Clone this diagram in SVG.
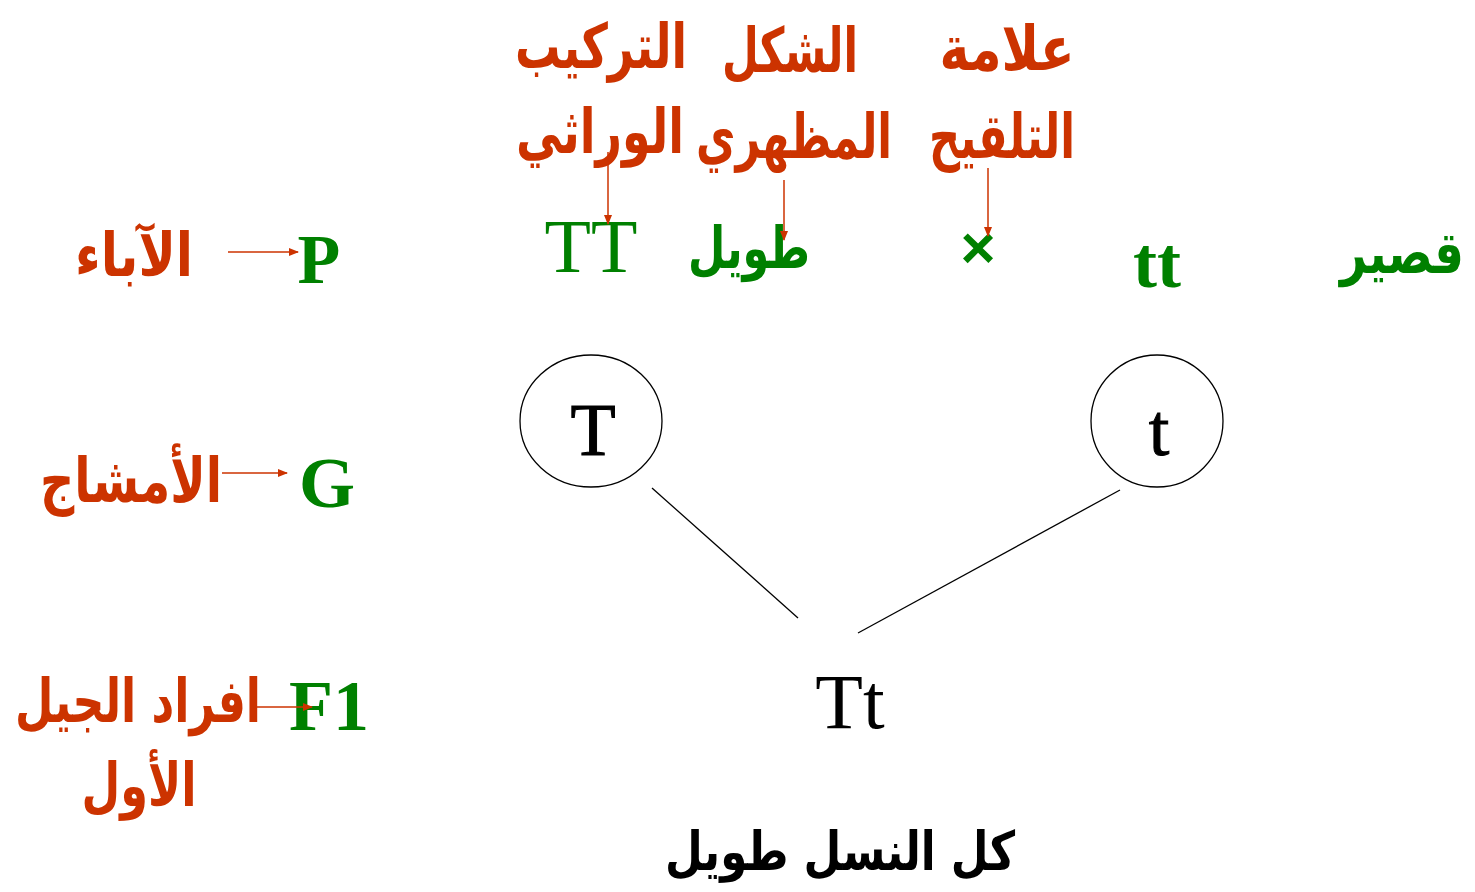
<svg xmlns="http://www.w3.org/2000/svg" width="1475" height="892" viewBox="0 0 1475 892">
<style>
.ar{font-family:"DejaVu Sans","Noto Sans",sans-serif;font-weight:bold;text-anchor:middle}
.red{fill:#CC3300}
.grn{fill:#008000}
.blk{fill:#000}
.lat{font-family:"Liberation Serif","Times New Roman",serif;text-anchor:middle}
.b{font-weight:bold}
.arr{stroke:#CC3300;stroke-width:1.5;fill:none}
.ln{stroke:#000;stroke-width:1.3;fill:none}
</style>
<defs>
<marker id="ah" markerWidth="10" markerHeight="8" refX="9" refY="4" orient="auto" markerUnits="userSpaceOnUse">
<path d="M0,0 L10,4 L0,8 Z" fill="#CC3300"/>
</marker>
</defs>
<rect width="1475" height="892" fill="#fff"/>
<g id="header-genotype">
<text class="ar red" x="601" y="68" font-size="62" textLength="172" lengthAdjust="spacingAndGlyphs">التركيب</text>
<text class="ar red" x="600" y="153" font-size="62" textLength="168" lengthAdjust="spacingAndGlyphs">الوراثي</text>
</g>
<g id="header-phenotype">
<text class="ar red" x="790" y="72" font-size="62" textLength="136" lengthAdjust="spacingAndGlyphs">الشكل</text>
<text class="ar red" x="794" y="158" font-size="62" textLength="196" lengthAdjust="spacingAndGlyphs">المظهري</text>
</g>
<g id="header-cross">
<text class="ar red" x="1007" y="70" font-size="62" textLength="135" lengthAdjust="spacingAndGlyphs">علامة</text>
<text class="ar red" x="1002" y="158" font-size="62" textLength="146" lengthAdjust="spacingAndGlyphs">التلقيح</text>
</g>
<g id="label-P">
<text class="ar red" x="134" y="276" font-size="60" textLength="118" lengthAdjust="spacingAndGlyphs">الآباء</text>
<text class="lat b grn" x="319" y="283" font-size="70">P</text>
</g>
<g id="label-G">
<text class="ar red" x="131" y="502" font-size="62" textLength="182" lengthAdjust="spacingAndGlyphs">الأمشاج</text>
<text class="lat b grn" x="327" y="507" font-size="72">G</text>
</g>
<g id="label-F1">
<text class="ar red" x="138" y="722" font-size="60" textLength="246" lengthAdjust="spacingAndGlyphs">افراد الجيل</text>
<text class="ar red" x="139" y="806" font-size="60" textLength="115" lengthAdjust="spacingAndGlyphs">الأول</text>
<text class="lat b grn" x="329" y="730" font-size="72">F1</text>
</g>
<g id="parent-TT">
<text class="lat grn" x="591" y="272" font-size="76">TT</text>
<text class="ar grn" x="749" y="268" font-size="58" textLength="122" lengthAdjust="spacingAndGlyphs">طويل</text>
</g>
<g id="cross-sign">
<text x="978" y="268" font-family="Liberation Sans, Arial, sans-serif" font-weight="bold" font-size="60" class="grn" text-anchor="middle">×</text>
</g>
<g id="parent-tt">
<text class="lat b grn" x="1157" y="287" font-size="72">tt</text>
<text class="ar grn" x="1402" y="273" font-size="58" textLength="124" lengthAdjust="spacingAndGlyphs">قصير</text>
</g>
<g id="gamete-T">
<ellipse cx="591" cy="421" rx="71" ry="66" fill="none" stroke="#000" stroke-width="1.3"/>
<text class="lat blk" x="593" y="455" font-size="74" stroke="#000" stroke-width="1">T</text>
</g>
<g id="gamete-t">
<ellipse cx="1157" cy="421" rx="66" ry="66" fill="none" stroke="#000" stroke-width="1.3"/>
<text class="lat blk" x="1159" y="455" font-size="74" stroke="#000" stroke-width="1">t</text>
</g>
<g id="offspring-Tt">
<text class="lat blk" x="850" y="728" font-size="78">Tt</text>
</g>
<g id="result">
<text class="ar blk" x="840" y="870" font-size="54" textLength="350" lengthAdjust="spacingAndGlyphs">كل النسل طويل</text>
</g>
<g id="connectors">
<line class="arr" x1="608" y1="152" x2="608" y2="224" marker-end="url(#ah)"/>
<line class="arr" x1="784" y1="180" x2="784" y2="240" marker-end="url(#ah)"/>
<line class="arr" x1="988" y1="168" x2="988" y2="236" marker-end="url(#ah)"/>
<line class="arr" x1="228" y1="252" x2="298" y2="252" marker-end="url(#ah)"/>
<line class="arr" x1="222" y1="473" x2="287" y2="473" marker-end="url(#ah)"/>
<line class="arr" x1="255" y1="707" x2="312" y2="707" marker-end="url(#ah)"/>
<line class="ln" x1="652" y1="488" x2="798" y2="618"/>
<line class="ln" x1="1120" y1="490" x2="858" y2="633"/>
</g>
</svg>
